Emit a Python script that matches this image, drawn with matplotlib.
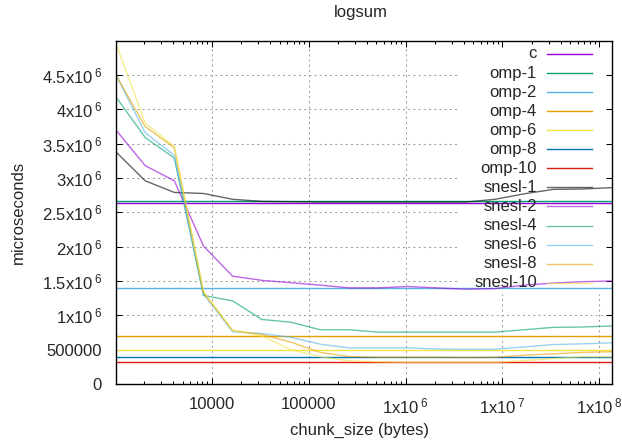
import math
import matplotlib
matplotlib.use("Agg")
import matplotlib.pyplot as plt
from matplotlib.ticker import FixedLocator, LogLocator, NullFormatter

plt.rcParams['font.family'] = ['Liberation Sans', 'DejaVu Sans']
plt.rcParams['mathtext.fontset'] = 'custom'
plt.rcParams['mathtext.rm'] = 'Liberation Sans'
plt.rcParams['mathtext.it'] = 'Liberation Sans:italic'
plt.rcParams['mathtext.bf'] = 'Liberation Sans:bold'

# ---------------- data ----------------
chunk_sizes = [1024, 2048, 4096, 8192, 16384, 32768, 65536, 131072, 262144,
               524288, 1048576, 2097152, 4194304, 8388608, 16777216,
               33554432, 67108864, 134217728]

# constant baselines (microseconds)
c_val = 2.638e6
omp_labels = ['omp-1', 'omp-2', 'omp-4', 'omp-6', 'omp-8', 'omp-10']
omp_vals = [2.662e6, 1.391e6, 0.694e6, 0.493e6, 0.396e6, 0.314e6]

snesl_labels = ['snesl-1', 'snesl-2', 'snesl-4', 'snesl-6', 'snesl-8', 'snesl-10']
snesl1 = [3.38e6, 2.96e6, 2.79e6, 2.775e6, 2.69e6, 2.66e6, 2.655e6, 2.65e6, 2.65e6,
          2.65e6, 2.65e6, 2.65e6, 2.65e6, 2.69e6, 2.77e6, 2.835e6, 2.84e6, 2.86e6]
snesl2 = [3.70e6, 3.18e6, 2.96e6, 2.01e6, 1.57e6, 1.51e6, 1.475e6, 1.44e6, 1.40e6,
          1.40e6, 1.42e6, 1.40e6, 1.38e6, 1.39e6, 1.44e6, 1.47e6, 1.49e6, 1.50e6]
snesl4 = [4.18e6, 3.59e6, 3.29e6, 1.29e6, 1.21e6, 0.94e6, 0.90e6, 0.79e6, 0.79e6,
          0.755e6, 0.755e6, 0.755e6, 0.755e6, 0.755e6, 0.79e6, 0.825e6, 0.83e6, 0.845e6]
snesl6 = [4.50e6, 3.66e6, 3.33e6, 1.31e6, 0.76e6, 0.735e6, 0.68e6, 0.58e6, 0.526e6,
          0.526e6, 0.526e6, 0.51e6, 0.507e6, 0.507e6, 0.54e6, 0.575e6, 0.585e6, 0.60e6]
snesl8 = [4.50e6, 3.75e6, 3.44e6, 1.33e6, 0.78e6, 0.72e6, 0.61e6, 0.46e6, 0.40e6,
          0.39e6, 0.39e6, 0.39e6, 0.385e6, 0.39e6, 0.42e6, 0.44e6, 0.46e6, 0.47e6]
snesl10 = [4.96e6, 3.80e6, 3.46e6, 1.35e6, 0.78e6, 0.70e6, 0.50e6, 0.396e6, 0.338e6,
           0.323e6, 0.314e6, 0.314e6, 0.314e6, 0.314e6, 0.34e6, 0.37e6, 0.396e6, 0.396e6]
snesl_series = [snesl1, snesl2, snesl4, snesl6, snesl8, snesl10]

y_ticks = [0, 500000, 1e6, 1.5e6, 2e6, 2.5e6, 3e6, 3.5e6, 4e6, 4.5e6]
y_ticklabels = ['0', '500000', r'1x10$\,^{6}$', r'1.5x10$\,^{6}$', r'2x10$\,^{6}$',
                r'2.5x10$\,^{6}$', r'3x10$\,^{6}$', r'3.5x10$\,^{6}$', r'4x10$\,^{6}$',
                r'4.5x10$\,^{6}$']
x_ticks = [1e4, 1e5, 1e6, 1e7, 1e8]
x_ticklabels = ['10000', '100000', r'1x10$\,^{6}$', r'1x10$\,^{7}$', r'1x10$\,^{8}$']

# ---------------- style ----------------
c_color = '#9400D3'
omp_colors = ['#009E73', '#56B4E9', '#E69F00', '#F0E442', '#0072B2', '#E51E10']
snesl_colors = ['#000000', '#9400D3', '#009E73', '#56B4E9', '#E69F00', '#F0E442']
snesl_alpha = 0.6
txt_color = '#262626'
fs = 12

W, H = 622, 444
fig = plt.figure(figsize=(W / 100, H / 100), dpi=100)
ax_l, ax_r, ax_t, ax_b = 116, 611.7, 40.7, 384
ax = fig.add_axes([ax_l / W, 1 - ax_b / H, (ax_r - ax_l) / W, (ax_b - ax_t) / H])

ax.set_xscale('log')
ax.set_xlim(chunk_sizes[0], chunk_sizes[-1])
ymax = 5e6
ax.set_ylim(0, ymax)

# key region (grid is suppressed there, as gnuplot does)
key_x0 = (458 - ax_l) / (ax_r - ax_l)
key_y0 = (ax_b - 294) / (ax_b - ax_t)

grid_kw = dict(color='#a0a0a0', lw=0.75, linestyle=(0, (2, 3)), zorder=0.5)
ytr = ax.get_yaxis_transform()
xtr = ax.get_xaxis_transform()
for yt in y_ticks[1:]:
    frac = yt / ymax
    x_end = key_x0 if frac > key_y0 else 1.0
    ax.plot([0, x_end], [yt, yt], transform=ytr, **grid_kw)
lx0, lx1 = math.log10(chunk_sizes[0]), math.log10(chunk_sizes[-1])
for xt in x_ticks:
    fracx = (math.log10(xt) - lx0) / (lx1 - lx0)
    y_end = key_y0 if fracx > key_x0 else 1.0
    ax.plot([xt, xt], [0, y_end], transform=xtr, **grid_kw)

# lines
lw = 1.0
ax.axhline(c_val, color=c_color, lw=lw, zorder=2)
for v, col in zip(omp_vals, omp_colors):
    ax.axhline(v, color=col, lw=lw, zorder=2)
for s, col in zip(snesl_series, snesl_colors):
    ax.plot(chunk_sizes, s, color=col, lw=lw, alpha=snesl_alpha, zorder=3)

# key (manual, gnuplot style: right-aligned text, sample to the right)
labels = ['c'] + omp_labels + snesl_labels
colors = [c_color] + omp_colors + snesl_colors
alphas = [1.0] * 7 + [snesl_alpha] * 6
text_x = (537 - ax_l) / (ax_r - ax_l)
s_x0 = (547 - ax_l) / (ax_r - ax_l)
s_x1 = (592 - ax_l) / (ax_r - ax_l)
for i, (lab, col, a) in enumerate(zip(labels, colors, alphas)):
    yp = 54 + 19.06 * i
    yf = (ax_b - yp) / (ax_b - ax_t)
    ax.text(text_x, yf, lab, transform=ax.transAxes, ha='right', va='center',
            fontsize=fs, color=txt_color, zorder=4)
    ax.plot([s_x0, s_x1], [yf, yf], transform=ax.transAxes, color=col, lw=lw,
            alpha=a, zorder=4)

# ticks
ax.yaxis.set_major_locator(FixedLocator(y_ticks))
ax.set_yticklabels(y_ticklabels)
ax.xaxis.set_major_locator(FixedLocator(x_ticks))
ax.set_xticklabels(x_ticklabels)
ax.xaxis.set_minor_locator(LogLocator(base=10, subs=[2, 3, 4, 5, 6, 7, 8, 9], numticks=20))
ax.xaxis.set_minor_formatter(NullFormatter())
ax.tick_params(which='both', direction='in', top=True, right=True, labelsize=fs,
               labelcolor=txt_color, width=0.75, color='black')
ax.tick_params(which='major', length=4.5)
ax.tick_params(which='minor', length=2.5)
ax.tick_params(axis='y', pad=10)
ax.tick_params(axis='x', pad=9)

for sp in ax.spines.values():
    sp.set_linewidth(1.0)
    sp.set_color('black')
    sp.set_zorder(5)

fig.text(361 / W, 1 - 13 / H, 'logsum', ha='center', va='center', fontsize=fs, color=txt_color)
fig.text(360 / W, 1 - 430 / H, 'chunk_size (bytes)', ha='center', va='center', fontsize=fs, color=txt_color)
fig.text(18 / W, 1 - 212 / H, 'microseconds', ha='center', va='center', rotation=90,
         fontsize=fs, color=txt_color)

fig.savefig('out.png', dpi=100)
